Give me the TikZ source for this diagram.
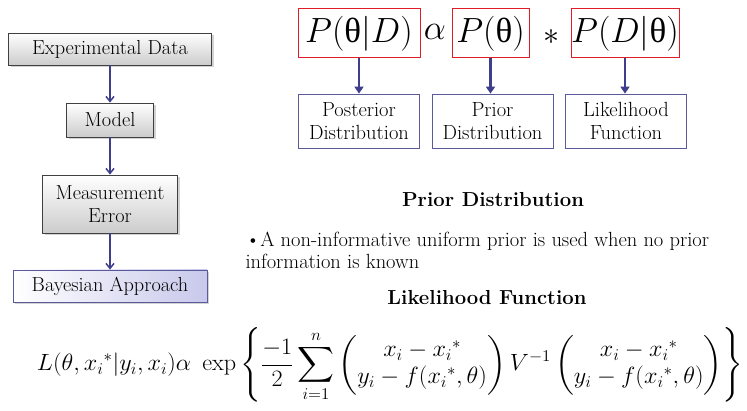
\RequirePackage{fix-cm}
\documentclass[tikz,border=0pt]{standalone}
\usepackage{amsmath}
\usepackage{fontspec}
\newfontfamily\grkfont{Liberation Serif}
\usetikzlibrary{arrows.meta,positioning,shadows}

\definecolor{arrowblue}{RGB}{62,62,140}
\definecolor{boxblue}{RGB}{90,90,155}
\definecolor{lavender}{RGB}{200,200,235}
\definecolor{eqred}{RGB}{225,30,40}

\newcommand{\uth}{\text{\grkfont θ}}

\begin{document}
\begin{tikzpicture}[x=1pt, y=-1pt,
  flow/.style={rectangle, draw=black!75, line width=0.8pt,
               top color=white, bottom color=black!20,
               drop shadow={shadow xshift=2pt, shadow yshift=-2pt, opacity=0.35},
               inner sep=0pt, align=center, font=\fontsize{20.3}{23}\selectfont},
  bayes/.style={flow, draw=boxblue, left color=white, right color=lavender},
  term/.style={rectangle, draw=eqred, line width=1pt, inner sep=0pt,
               minimum height=49pt, font=\fontsize{35}{40}\selectfont},
  label/.style={rectangle, draw=boxblue, line width=0.8pt, inner sep=0pt,
                minimum width=121pt, minimum height=54pt,
                align=center, font=\fontsize{20.5}{23}\selectfont},
  arrow/.style={-{Straight Barb[length=5pt,width=8pt]}, line width=1.5pt, arrowblue},
  bigarrow/.style={-{Triangle[length=7pt,width=9pt]}, line width=2.2pt, arrowblue},
  heading/.style={font=\fontsize{20.3}{23}\selectfont\bfseries}
]
\useasboundingbox (0,0) rectangle (747,411);

% Left column
\node[flow, minimum width=203pt, minimum height=32pt] (data)    at (110,49)  {Experimental Data};
\node[flow, minimum width=87pt,  minimum height=34pt] (model)   at (110,120) {Model};
\node[flow, minimum width=135pt, minimum height=58pt] (error)   at (110,204) {Measurement\\Error};
\node[bayes, minimum width=194pt, minimum height=32pt] (bayes)  at (110,286) {Bayesian Approach};

\draw[arrow] (data) -- (model);
\draw[arrow] (model) -- (error);
\draw[arrow] (error) -- (bayes);

% Bayes rule
\node[term, minimum width=122pt] (post)  at (359,33.5)   {$P(\uth|D)$};
\node[font=\fontsize{35}{40}\selectfont] (prop) at (435,32) {$\alpha$};
\node[term, minimum width=77pt]  (prior) at (490.5,33.5) {$P(\uth)$};
\node[font=\fontsize{32}{36}\selectfont] (times) at (551,37) {$*$};
\node[term, minimum width=108pt] (like)  at (625,33.5)   {$P(D|\uth)$};

\node[label] (postlbl)  at (359,121)   {Posterior\\Distribution};
\node[label] (priorlbl) at (492.5,121) {Prior\\Distribution};
\node[label] (likelbl)  at (626,121)   {Likelihood\\Function};

\draw[bigarrow] (post) -- (postlbl);
\draw[bigarrow] (prior) -- (prior |- priorlbl.north);
\draw[bigarrow] (like) -- (like |- likelbl.north);

% Notes
\node[heading] (priorhead) at (493,200) {Prior Distribution};
\node[anchor=north west, align=left, font=\fontsize{20.5}{22.5}\selectfont] (priornote) at (242,228)
  {\textbullet A non-informative uniform prior is used when no prior\\information is known};
\node[heading] (likehead) at (487,298) {Likelihood Function};

% Likelihood
\node[font=\fontsize{23.5}{27}\selectfont] (likeeq) at (390,365)
  {\scalebox{1.03}[1]{$\displaystyle L(\theta, x_i{}^{*}|y_i, x_i)\alpha\ \exp\left\{\frac{-1}{2}\sum_{i=1}^{n}
   \begin{pmatrix} x_i - x_i{}^{*}\\ y_i - f(x_i{}^{*},\theta)\end{pmatrix} V^{-1}
   \begin{pmatrix} x_i - x_i{}^{*}\\ y_i - f(x_i{}^{*},\theta)\end{pmatrix}\right\}$}};
\end{tikzpicture}
\end{document}
